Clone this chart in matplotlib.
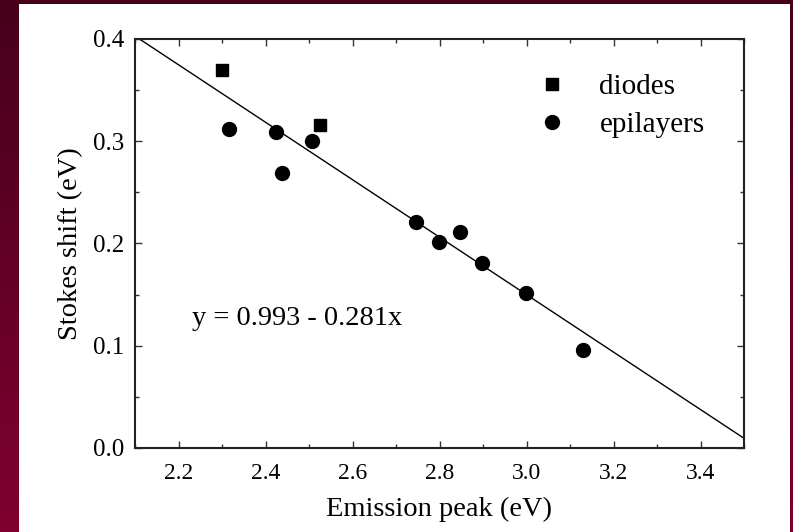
import numpy as np
import matplotlib
matplotlib.use("Agg")
import matplotlib.pyplot as plt
from matplotlib.ticker import MultipleLocator
from matplotlib.patches import Rectangle
from matplotlib.colors import LinearSegmentedColormap

# Data
diodes_x = [2.30, 2.525]
diodes_y = [0.370, 0.316]
epi_x = [2.317, 2.424, 2.437, 2.507, 2.746, 2.799, 2.846, 2.897, 2.998, 3.130]
epi_y = [0.312, 0.309, 0.269, 0.300, 0.221, 0.201, 0.211, 0.181, 0.152, 0.096]
fit_a = 0.993
fit_b = 0.281
fit_x = [2.1, 3.5]
xticks = [2.2, 2.4, 2.6, 2.8, 3.0, 3.2, 3.4]
yticks = [0.0, 0.1, 0.2, 0.3, 0.4]

plt.rcParams['font.family'] = ['Liberation Serif', 'DejaVu Serif']

W, H = 793, 532
fig = plt.figure(figsize=(W / 100, H / 100), dpi=100)

# background gradient
bg = fig.add_axes([0, 0, 1, 1])
grad = np.linspace(0, 1, 256).reshape(-1, 1)
cmap = LinearSegmentedColormap.from_list('bg', ['#46001a', '#800030'])
bg.imshow(grad, aspect='auto', cmap=cmap, extent=[0, 1, 0, 1], origin='upper')
bg.add_patch(Rectangle((19 / W, 0), (790 - 19) / W, (H - 4) / H, facecolor='white',
                       edgecolor='none', transform=bg.transAxes))
bg.set_xlim(0, 1); bg.set_ylim(0, 1)
bg.axis('off')

ax = fig.add_axes([135 / W, (H - 448) / H, (744 - 135) / W, (448 - 39) / H])
ax.set_facecolor('none')

fx = np.array(fit_x)
ax.plot(fx, fit_a - fit_b * fx, color='black', lw=1.0)
ax.plot(diodes_x, diodes_y, 's', color='black', ms=8.5, label='diodes', clip_on=False)
ax.plot(epi_x, epi_y, 'o', color='black', ms=10, label='epilayers', clip_on=False)

ax.set_xlim(2.1, 3.5)
ax.set_ylim(0.0, 0.4)
ax.set_xticks(xticks)
ax.set_xticklabels([f"{v:.1f}" for v in xticks])
ax.set_yticks(yticks)
ax.set_yticklabels([f"{v:.1f}" for v in yticks])
ax.xaxis.set_minor_locator(MultipleLocator(0.1))
ax.yaxis.set_minor_locator(MultipleLocator(0.05))
ax.tick_params(which='both', direction='in', top=True, right=True,
               width=1.0, color='#333333')
ax.tick_params(which='major', length=5)
ax.tick_params(which='minor', length=3)
ax.tick_params(axis='x', which='major', labelsize=17, pad=11)
ax.tick_params(axis='y', which='major', labelsize=18, pad=8)
for s in ax.spines.values():
    s.set_linewidth(1.5)
    s.set_color('#222222')

ax.set_xlabel('Emission peak (eV)', fontsize=20.5, labelpad=9)
ax.set_ylabel('Stokes shift (eV)', fontsize=20.5, labelpad=7)

ax.text(2.232, 0.127, 'y = 0.993 - 0.281x', fontsize=20.5, va='center', ha='left')

ax.legend(loc='upper left', bbox_to_anchor=(0.661, 0.915), frameon=False, fontsize=21,
          handlelength=1.0, handletextpad=1.12, labelspacing=0.4, borderaxespad=0,
          borderpad=0)

fig.savefig('out.png', dpi=100)
